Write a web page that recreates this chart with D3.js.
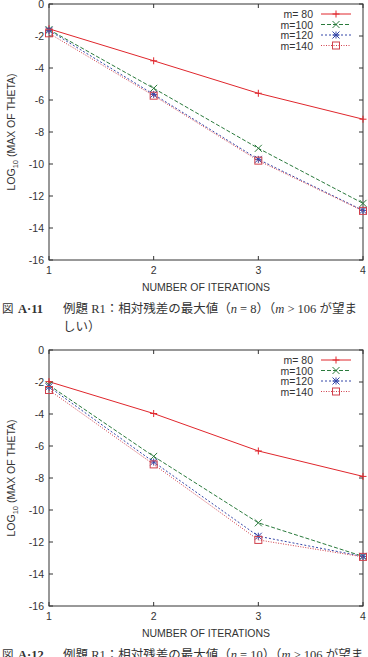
<!DOCTYPE html>
<html>
<head>
<meta charset="utf-8">
<script src="https://cdn.jsdelivr.net/npm/d3@7"></script>
<style>
    body { margin: 0; background: #fff; }
    svg { display: block; }
    text { font-family: "Liberation Sans", Arial, sans-serif; fill: #333; }
</style>
</head>
<body>
<div id="chart"></div>
<script>
// values (log10 of max theta)
const iterations = [1, 2, 3, 4]
const seriesNames = ["m= 80", "m=100", "m=120", "m=140"]

const n8_m80 = [-1.55, -3.55, -5.58, -7.2]
const n8_m100 = [-1.6, -5.27, -9.02, -12.46]
const n8_m120 = [-1.65, -5.65, -9.71, -12.9]
const n8_m140 = [-1.83, -5.73, -9.79, -12.93]

const n10_m80 = [-1.98, -3.97, -6.31, -7.9]
const n10_m100 = [-2.2, -6.65, -10.8, -12.9]
const n10_m120 = [-2.3, -7.0, -11.64, -12.9]
const n10_m140 = [-2.5, -7.15, -11.87, -12.93]

const xTicks = [1, 2, 3, 4]
const yTicks = [0, -2, -4, -6, -8, -10, -12, -14, -16]

const xLabel = "NUMBER OF ITERATIONS"
const captionA = ["図", "A·11", "例題 R1：相対残差の最大値（", "n", " = 8）（", "m", " > 106 が望ま", "しい）"]
const captionB = ["図", "A·12", "例題 R1：相対残差の最大値（", "n", " = 10）（", "m", " > 106 が望ま", ""]

const styles = [
    { color: "#e0262c", dash: null, marker: "plus" },
    { color: "#2a7a3c", dash: "4,2", marker: "cross" },
    { color: "#3446a8", dash: "2,2", marker: "star" },
    { color: "#d0404c", dash: "1,1.5", marker: "square" }
]

const capFont = '"Liberation Serif", "Noto Sans CJK JP", serif'

const W = 368, H = 657
const svg = d3.select('#chart').append('svg')
    .attr('width', W)
    .attr('height', H)

const drawMarker = (g, kind, cx, cy, color) => {
    const s = 3.5
    if (kind == "plus" || kind == "star") {
        g.append("path").attr("d", `M${cx - s},${cy}H${cx + s}M${cx},${cy - s}V${cy + s}`)
            .attr("stroke", color).attr("stroke-width", 1).attr("fill", "none")
    }
    if (kind == "cross" || kind == "star") {
        g.append("path").attr("d", `M${cx - s},${cy - s}L${cx + s},${cy + s}M${cx - s},${cy + s}L${cx + s},${cy - s}`)
            .attr("stroke", color).attr("stroke-width", 1).attr("fill", "none")
    }
    if (kind == "square") {
        g.append("rect").attr("x", cx - s).attr("y", cy - s).attr("width", 2 * s).attr("height", 2 * s)
            .attr("stroke", color).attr("stroke-width", 1).attr("fill", "none")
    }
}

const drawChart = (top, series, caption) => {
    const left = 49, right = 363, bottom = top + 256
    const x = d3.scaleLinear().domain([1, 4]).range([left, right])
    const y = d3.scaleLinear().domain([-16, 0]).range([bottom, top])
    const g = svg.append('g')

    // ticks on all four sides, pointing inwards
    const tl = 4
    xTicks.forEach(t => {
        g.append("line").attr("x1", x(t)).attr("x2", x(t)).attr("y1", bottom).attr("y2", bottom - tl).attr("stroke", "#333")
        g.append("line").attr("x1", x(t)).attr("x2", x(t)).attr("y1", top).attr("y2", top + tl).attr("stroke", "#333")
        g.append("text").attr("x", x(t)).attr("y", bottom + 14)
            .attr("text-anchor", "middle").attr("font-size", 10.5).text(t)
    })
    yTicks.forEach(t => {
        g.append("line").attr("x1", left).attr("x2", left + tl).attr("y1", y(t)).attr("y2", y(t)).attr("stroke", "#333")
        g.append("line").attr("x1", right).attr("x2", right - tl).attr("y1", y(t)).attr("y2", y(t)).attr("stroke", "#333")
        g.append("text").attr("x", left - 5).attr("y", y(t) + 4)
            .attr("text-anchor", "end").attr("font-size", 10.5).text(t)
    })
    g.append("rect").attr("x", left).attr("y", top).attr("width", right - left).attr("height", bottom - top)
        .attr("fill", "none").attr("stroke", "#333").attr("stroke-width", 1)

    g.append("text").attr("x", (left + right) / 2).attr("y", bottom + 31)
        .attr("text-anchor", "middle").attr("font-size", 10.5).text(xLabel)

    const yl = g.append("text")
        .attr("transform", `translate(15,${(top + bottom) / 2}) rotate(-90)`)
        .attr("text-anchor", "middle").attr("font-size", 10.5)
    yl.append("tspan").text("LOG")
    yl.append("tspan").attr("font-size", 7.5).attr("dy", 3).text("10")
    yl.append("tspan").attr("dy", -3).text(" (MAX OF THETA)")

    // lines + points
    series.forEach((vals, i) => {
        const st = styles[i]
        const pts = vals.map((v, k) => [iterations[k], v])
        g.append("path").datum(pts)
            .attr("fill", "none").attr("stroke", st.color).attr("stroke-width", 1)
            .attr("stroke-dasharray", st.dash)
            .attr("d", d3.line().x(d => x(d[0])).y(d => y(d[1])))
        pts.forEach(d => drawMarker(g, st.marker, x(d[0]), y(d[1]), st.color))
    })

    // legend
    seriesNames.forEach((name, i) => {
        const st = styles[i]
        const ly = top + 10 + i * 10.5
        g.append("text").attr("x", 313).attr("y", ly + 4).attr("text-anchor", "end")
            .attr("font-size", 10.5).text(name)
        g.append("line").attr("x1", 321).attr("x2", 351).attr("y1", ly).attr("y2", ly)
            .attr("stroke", st.color).attr("stroke-dasharray", st.dash)
        drawMarker(g, st.marker, 336, ly, st.color)
    })

    // caption
    const cy = bottom + 53
    const fs = 12.5
    g.append("text").attr("x", 2).attr("y", cy).attr("font-size", 11.5)
        .style("font-family", capFont).text(caption[0])
    g.append("text").attr("x", 18).attr("y", cy).attr("font-size", fs).attr("font-weight", "bold")
        .style("font-family", capFont).text(caption[1])
    const c = g.append("text").attr("x", 63).attr("y", cy).attr("font-size", fs)
        .style("font-family", capFont)
    c.append("tspan").text(caption[2])
    c.append("tspan").attr("font-style", "italic").text(caption[3])
    c.append("tspan").text(caption[4])
    c.append("tspan").attr("font-style", "italic").text(caption[5])
    c.append("tspan").text(caption[6])
    if (caption[7]) {
        g.append("text").attr("x", 63).attr("y", cy + 18).attr("font-size", fs)
            .style("font-family", capFont).text(caption[7])
    }
}

drawChart(4, [n8_m80, n8_m100, n8_m120, n8_m140], captionA)
drawChart(350, [n10_m80, n10_m100, n10_m120, n10_m140], captionB)
</script>
</body>
</html>
